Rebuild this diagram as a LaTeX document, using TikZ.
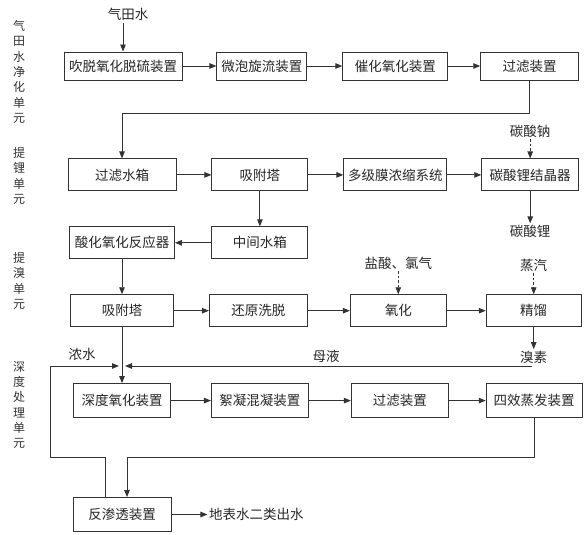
\documentclass[tikz,border=0pt]{standalone}
\usepackage{fontspec}
\setmainfont{Noto Sans CJK SC}
\usepackage{tikz}
\usetikzlibrary{positioning,arrows.meta,calc}

\begin{document}
\begin{tikzpicture}[
    node distance=35pt,
    box/.style={rectangle, draw=black!80, line width=0.9pt, minimum height=32pt, inner sep=2pt, align=center, text=black!85, font=\fontsize{13.5}{16}\selectfont},
    lbl/.style={inner sep=1.5pt, text=black!85, font=\fontsize{13.5}{16}\selectfont},
    unit/.style={inner sep=0pt, align=center, text=black!80, font=\fontsize{12}{15.3}\selectfont},
    arrow/.style={draw=black!80, line width=0.9pt, -{Triangle[length=7pt,width=5.5pt]}},
    dasharrow/.style={arrow, dash pattern=on 2.5pt off 2pt}
]
\useasboundingbox (0,0) rectangle (587pt,-535pt);
% unit labels
\node[unit] (unitA) at (19pt,-72pt) {气\\田\\水\\净\\化\\单\\元};
\node[unit] (unitB) at (19pt,-176pt) {提\\锂\\单\\元};
\node[unit] (unitC) at (19pt,-281pt) {提\\溴\\单\\元};
\node[unit] (unitD) at (19pt,-405pt) {深\\度\\处\\理\\单\\元};
% gas field water purification
\node[box, minimum width=118pt, minimum height=28pt] (stripping) at (123pt,-66pt) {吹脱氧化脱硫装置};
\node[box, minimum width=90pt, minimum height=28pt, right=34pt of stripping] (cyclone) {微泡旋流装置};
\node[box, minimum width=105pt, minimum height=28pt, right=35pt of cyclone] (catox) {催化氧化装置};
\node[box, minimum width=98pt, minimum height=28pt, right=32pt of catox] (filter) {过滤装置};
\node[lbl, above=29pt of stripping, xshift=5pt] (gasfield) {气田水};
% lithium extraction
\node[box, minimum width=108pt, below=78pt of stripping, xshift=-1pt] (tank) {过滤水箱};
\node[box, minimum width=96pt, right=35pt of tank] (adsorber) {吸附塔};
\node[box, minimum width=103pt, right=35pt of adsorber] (membrane) {多级膜浓缩系统};
\node[box, minimum width=97pt, right=34pt of membrane] (crystal) {碳酸锂结晶器};
\node[lbl, above=19pt of crystal] (sodium) {碳酸钠};
\node[lbl, below=32pt of crystal] (lithium) {碳酸锂};
% bromine extraction
\node[box, minimum width=105pt, below=of tank] (acidox) {酸化氧化反应器};
\node[box, minimum width=96pt, below=of adsorber] (midtank) {中间水箱};
\node[box, minimum width=103pt, below=of acidox] (bradsorb) {吸附塔};
\node[box, minimum width=98pt, right=35pt of bradsorb] (elution) {还原洗脱};
\node[box, minimum width=96pt, right=42pt of elution] (oxid) {氧化};
\node[box, minimum width=95pt, right=39pt of oxid] (distill) {精馏};
\node[lbl, above=23pt of oxid] (acidcl) {盐酸、氯气};
\node[lbl, above=21pt of distill] (steam) {蒸汽};
\node[lbl, below=22pt of distill] (bromine) {溴素};
% advanced treatment
\node[box, minimum width=97pt, minimum height=34pt, below=56pt of bradsorb] (deepox) {深度氧化装置};
\node[box, minimum width=97pt, minimum height=34pt, right=40pt of deepox] (floc) {絮凝混凝装置};
\node[box, minimum width=97pt, minimum height=34pt, right=42pt of floc] (filtertwo) {过滤装置};
\node[box, minimum width=96pt, minimum height=34pt, right=37pt of filtertwo] (evap) {四效蒸发装置};
\node[box, minimum width=98pt, minimum height=34pt, below=79pt of deepox] (ro) {反渗透装置};
\node[lbl, right=36pt of ro] (outlet) {地表水二类出水};
\node[lbl] (mother) at (326pt,-356pt) {母液};
\node[lbl] (brine) at (82pt,-354pt) {浓水};
\coordinate (mlstart) at (532pt,-366pt);
\coordinate (brineturn) at (50pt,-457pt);
% connectors
\draw[arrow] (gasfield.south -| stripping.north) -- (stripping.north);
\draw[arrow] (stripping) -- (cyclone);
\draw[arrow] (cyclone) -- (catox);
\draw[arrow] (catox) -- (filter);
\draw[arrow] (filter.south) -- ++(0,-33pt) -| (tank.north);
\draw[arrow] (tank) -- (adsorber);
\draw[arrow] (adsorber) -- (membrane);
\draw[arrow] (membrane) -- (crystal);
\draw[dasharrow] (sodium) -- (crystal);
\draw[arrow] (crystal) -- (lithium);
\draw[arrow] (adsorber) -- (midtank);
\draw[arrow] (midtank) -- (acidox);
\draw[arrow] (acidox) -- (bradsorb);
\draw[arrow] (bradsorb) -- (elution);
\draw[arrow] (elution) -- (oxid);
\draw[arrow] (oxid) -- (distill);
\draw[dasharrow] (acidcl) -- (oxid);
\draw[dasharrow] (steam) -- (distill);
\draw[arrow] (distill) -- (bromine);
\draw[arrow] (bradsorb.south) -- (deepox.north);
\draw[arrow] (mlstart) -- ([xshift=3pt]mlstart -| deepox.north);
\draw[arrow] ([xshift=-17pt]ro.north) |- (brineturn) |- ([xshift=-3pt]mlstart -| deepox.north);
\draw[arrow] (deepox) -- (floc);
\draw[arrow] (floc) -- (filtertwo);
\draw[arrow] (filtertwo) -- (evap);
\draw[arrow] (evap.south) |- ([xshift=5pt]brineturn -| ro.north) -- ([xshift=5pt]ro.north);
\draw[arrow] (ro) -- (outlet);
\end{tikzpicture}
\end{document}
